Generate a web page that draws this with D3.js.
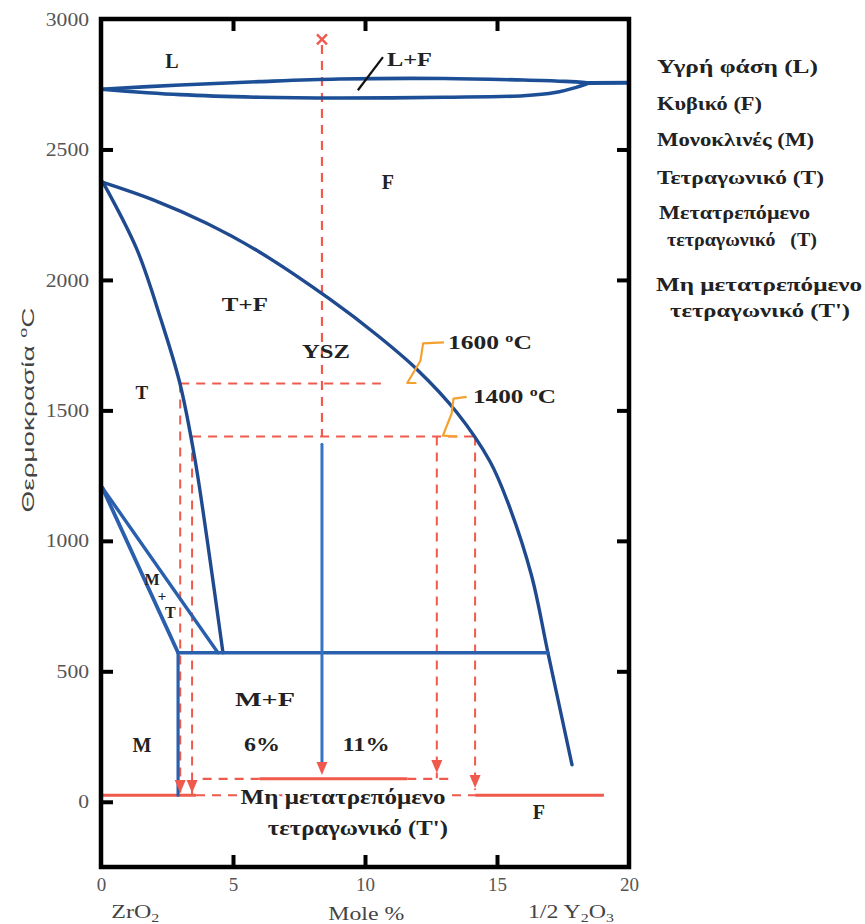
<!DOCTYPE html>
<html><head><meta charset="utf-8">
<script src="https://cdn.jsdelivr.net/npm/d3@7/dist/d3.min.js"></script>
<style>body{margin:0;background:#fff;}</style></head>
<body><svg id="c" width="865" height="924"></svg>
<script>
// ---------- data (mole % YO1.5, temperature °C) ----------
const xTicks = [0, 5, 10, 15, 20];
const yTicks = [0, 500, 1000, 1500, 2000, 2500, 3000];
const liquidusUpper = [[0,2731],[3,2747],[6,2760],[9,2770],[13,2772],[16,2766],[17.6,2761],[18.5,2755]];
const liquidusLower = [[0,2731],[3,2710],[6,2700],[9,2697],[13,2700],[16,2706],[17.2,2718],[18,2738],[18.5,2755]];
const liquidusTail = [[18.5,2755],[20,2756]];
const tBoundary = [[0.076,2374],[1.36,2117],[2.27,1848],[2.99,1603],[3.56,1312],[4.02,1005],[4.62,571]];
const fBoundary = [[0.076,2374],[2,2306],[4,2217],[6,2107],[8.67,1926],[10.5,1785],[11.97,1657],[13.48,1492],[14.73,1305],[15.4,1150],[16.3,870],[16.93,571],[17.84,142]];
const mtLower = [[0.05,1204],[2.92,571]];
const mtUpper = [[0.05,1204],[4.43,571]];
const eutectoid = [[2.92,571],[16.93,571]];
const mBoundary = [[2.92,571],[2.92,25]];
const yszShaft = [[8.37,1370],[8.37,150]];
const yszDashed = [[8.37,2900],[8.37,1400]];
const iso1600 = [[3.0,1603],[10.6,1603]];
const iso1400 = [[3.45,1400],[14.2,1400]];
const dropLines = [
  [[3.0,1603],[3.0,30]],
  [[3.45,1400],[3.45,30]],
  [[12.72,1400],[12.72,90]],
  [[14.17,1400],[14.17,45]]
];
const arrows = [[3.0,34],[3.45,34],[8.37,103],[12.72,110],[14.17,53]];
const redSolid = [
  [[0,25],[3.6,25]],
  [[14.17,25],[19.05,25]],
  [[6.0,88],[11.6,88]]
];
const redDashed = [
  [[3.6,25],[14.17,25]],
  [[3.85,88],[6.0,88]],
  [[11.6,88],[13.3,88]]
];
const callout1600 = [[12.99,1761],[12.2,1757],[12.1,1690],[11.6,1605],[11.95,1605]];
const callout1400 = [[13.85,1552],[13.35,1545],[13.28,1487],[12.95,1403],[13.5,1400]];
const leaderLF = [[9.73,2727],[10.68,2854]];
const crossMark = [8.37,2922];

// ---------- label layout ----------
const labelLayout = [
  {t:"L", x:2.69, y:2838, s:20},
  {t:"F", x:10.87, y:2375, s:20},
  {t:"T+F", x:5.45, y:1906, s:19, w:46},
  {t:"YSZ", x:8.52, y:1726, s:19, w:48},
  {t:"T", x:1.55, y:1569, s:19},
  {t:"M", x:1.93, y:852, s:16},
  {t:"+", x:2.31, y:790, s:15},
  {t:"T", x:2.63, y:725, s:16},
  {t:"M+F", x:6.21, y:391, s:19, w:60},
  {t:"M", x:1.55, y:219, s:20},
  {t:"6%", x:6.1, y:219, s:19, w:36},
  {t:"11%", x:10.04, y:219, s:19, w:47},
  {t:"F", x:16.59, y:-38, s:20}
];
const legendLayout = [
  {t:"Υγρή φάση (L)", x:657, y:73, w:161},
  {t:"Κυβικό (F)", x:657, y:110, w:105},
  {t:"Μονοκλινές (M)", x:657, y:146, w:157},
  {t:"Τετραγωνικό (T)", x:657, y:184, w:167},
  {t:"Μετατρεπόμενο", x:659, y:219, w:151},
  {t:"τετραγωνικό\u00a0\u00a0 (T)", x:667, y:246, w:150},
  {t:"Μη μετατρεπόμενο", x:656, y:291, w:206},
  {t:"τετραγωνικό (T')", x:670, y:317, w:180}
];

const SERIF = "'Liberation Serif','Times New Roman',serif";
const SANS = "'Liberation Sans',Arial,sans-serif";

// ---------- scales ----------
const svg = d3.select("#c");
const x = d3.scaleLinear().domain([0,20]).range([101,629]);
const y = d3.scaleLinear().domain([-250,3000]).range([867,19]);

const smooth = d3.line().x(d=>x(d[0])).y(d=>y(d[1])).curve(d3.curveCatmullRom.alpha(0.5));
const straight = d3.line().x(d=>x(d[0])).y(d=>y(d[1]));

const RED = "#ef5a4c", BLUE = "#1f4a8f", BLUE2 = "#2a5fae", ORANGE = "#f4a12e";

// ---------- red dashed guides ----------
const g = svg.append("g");
const dash = (pts, w=2) => g.append("path").attr("d", straight(pts)).attr("fill","none")
  .attr("stroke", RED).attr("stroke-width", w).attr("stroke-dasharray","9,7");
dash(yszDashed, 2.2);
dash(iso1600); dash(iso1400);
dropLines.forEach(p => dash(p));
redDashed.forEach(p => dash(p, 2.2));
redSolid.forEach(p => g.append("path").attr("d", straight(p)).attr("fill","none")
  .attr("stroke", RED).attr("stroke-width", 3));

// ---------- phase boundaries ----------
const blue = (pts, gen, col=BLUE, w=3.4) => g.append("path").attr("d", gen(pts)).attr("fill","none")
  .attr("stroke", col).attr("stroke-width", w).attr("stroke-linejoin","round").attr("stroke-linecap","round");
blue(liquidusUpper, smooth, "#1d4f96", 3.6);
blue(liquidusLower, smooth, "#1d4f96", 3.6);
blue(liquidusTail, straight, "#1d4f96", 4);
blue(tBoundary, smooth);
blue(fBoundary, smooth);
blue(mtLower, straight, BLUE2, 3.8);
blue(mtUpper, straight, BLUE2, 3.4);
blue(eutectoid, straight, BLUE2, 3.4);
blue(mBoundary, straight, BLUE2, 3.2);
blue(yszShaft, straight, "#3574c2", 3);

// arrows
arrows.forEach(a => {
  const cx = x(a[0]), ty = y(a[1]);
  g.append("path").attr("d", `M${cx-5.5},${ty-13} L${cx+5.5},${ty-13} L${cx},${ty} Z`).attr("fill", RED);
});

// cross
const cxm = x(crossMark[0]), cym = y(crossMark[1]);
g.append("path").attr("d", `M${cxm-5},${cym-5}L${cxm+5},${cym+5}M${cxm+5},${cym-5}L${cxm-5},${cym+5}`)
  .attr("stroke", RED).attr("stroke-width", 2.4);

// callouts
[callout1600, callout1400].forEach(c => g.append("path").attr("d", straight(c)).attr("fill","none")
  .attr("stroke", ORANGE).attr("stroke-width", 2.2).attr("stroke-linejoin","round"));
g.append("path").attr("d", straight(leaderLF)).attr("stroke","#111").attr("stroke-width",2.2);

// ---------- labels ----------
function txt(px, py, str, size, opts={}) {
  const t = svg.append("text").attr("x", px).attr("y", py)
    .style("font-family", opts.family || SERIF).style("font-weight", opts.weight || "bold")
    .style("font-size", size + "px").attr("fill", opts.fill || "#222")
    .attr("text-anchor", opts.anchor || "start");
  if (opts.dy) t.attr("dy", opts.dy);
  if (str !== null) t.text(str);
  if (opts.w) t.attr("textLength", opts.w).attr("lengthAdjust","spacingAndGlyphs");
  return t;
}
labelLayout.forEach(l => txt(x(l.x), y(l.y), l.t, l.s, {anchor:"middle", dy:"0.35em", w:l.w}));
txt(x(10.83), y(2846), "L+F", 19, {dy:"0.35em", w:45});

function degLabel(val, xv, yv, w){
  const t = txt(x(xv), y(yv), null, 19, {dy:"0.35em"});
  t.append("tspan").text(val + " ");
  t.append("tspan").style("font-size","12px").attr("dy","-7").text("o");
  t.append("tspan").attr("dy","7").text("C");
  t.attr("textLength", w).attr("lengthAdjust","spacingAndGlyphs");
}
degLabel("1600", 13.14, 1761, 84);
degLabel("1400", 14.09, 1554, 83);

const halo = t => t.attr("stroke","#fff").attr("stroke-width",4).attr("paint-order","stroke");
halo(txt(x(9.17), y(19), "Μη μετατρεπόμενο", 20, {anchor:"middle", dy:"0.35em", w:205}));
halo(txt(x(9.73), y(-100), "τετραγωνικό (T')", 20, {anchor:"middle", dy:"0.35em", w:180}));

// ---------- axes ----------
const fmt = d3.format("d");
const axL = svg.append("g").attr("transform",`translate(${x(0)},0)`)
  .call(d3.axisLeft(y).tickValues(yTicks).tickFormat(fmt).tickSize(-12).tickPadding(12));
const axR = svg.append("g").attr("transform",`translate(${x(20)},0)`)
  .call(d3.axisRight(y).tickValues(yTicks.slice(1,-1)).tickSize(-12).tickFormat(""));
const axB = svg.append("g").attr("transform",`translate(0,${y(-250)})`)
  .call(d3.axisBottom(x).tickValues(xTicks).tickFormat(fmt).tickSize(-12).tickPadding(11));
const axT = svg.append("g").attr("transform",`translate(0,${y(3000)})`)
  .call(d3.axisTop(x).tickValues(xTicks.slice(1,-1)).tickSize(-12).tickFormat(""));
[axL, axR, axB, axT].forEach(a => {
  a.select(".domain").remove();
  a.selectAll(".tick line").attr("stroke","#000").attr("stroke-width",4);
  a.selectAll(".tick text").style("font-family", SERIF).style("font-size","19px").attr("fill","#555");
});
axB.selectAll(".tick line").filter(d => d===0 || d===20).remove();
axL.selectAll(".tick line").filter(d => d===3000).remove();
axL.selectAll(".tick text").attr("textLength", d => String(d).length * 10.8).attr("lengthAdjust","spacingAndGlyphs");

svg.append("rect").attr("x", x(0)).attr("y", y(3000)).attr("width", x(20)-x(0)).attr("height", y(-250)-y(3000))
  .attr("fill","none").attr("stroke","#000").attr("stroke-width",4.5);

// axis titles
function subText(px, parts, w) {
  const t = txt(px, 918, null, 18, {anchor:"middle", weight:"normal", fill:"#444"});
  parts.forEach(p => {
    const s = t.append("tspan").text(p[0]);
    if (p[1] === "sub") s.style("font-size","12px").attr("dy", 4);
    if (p[1] === "back") s.attr("dy", -4);
  });
  t.attr("textLength", w).attr("lengthAdjust","spacingAndGlyphs");
}
subText(x(1.3), [["ZrO"],["2","sub"]], 48);
txt(x(10.05), 920, "Mole %", 18, {anchor:"middle", weight:"normal", fill:"#444", w:76});
subText(x(17.8), [["1/2 Y"],["2","sub"],["O","back"],["3","sub"]], 86);

const yl = svg.append("text").attr("transform","translate(34,410) rotate(-90)").attr("text-anchor","middle")
  .style("font-family", SANS).style("font-size","17px").attr("fill","#444");
yl.append("tspan").text("Θερμοκρασία ");
yl.append("tspan").style("font-size","11px").attr("dy","-7").text("o");
yl.append("tspan").attr("dy","7").text("C");
yl.attr("textLength", 205).attr("lengthAdjust","spacingAndGlyphs");

// legend
legendLayout.forEach(l => txt(l.x, l.y, l.t, 18, {w:l.w}));
</script></body></html>
